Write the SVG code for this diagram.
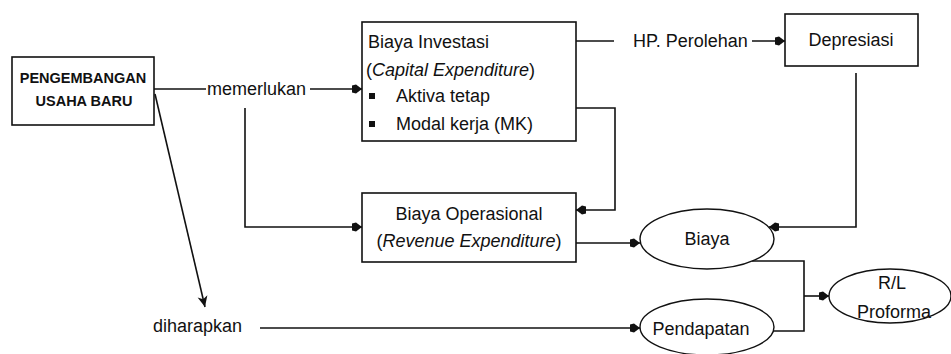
<svg xmlns="http://www.w3.org/2000/svg" width="951" height="354" viewBox="0 0 951 354">
<style>
.box{fill:#fff;stroke:#111;stroke-width:1.6}
.ell{fill:#fff;stroke:#111;stroke-width:1.4}
.ln{fill:none;stroke:#111;stroke-width:1.6}
text{font-family:"Liberation Sans",Arial,sans-serif;font-size:18px;fill:#111}
.b{font-weight:bold;font-size:14.5px}
.i{font-style:italic}
.m{text-anchor:middle}
</style>
<defs>
<marker id="a" markerUnits="userSpaceOnUse" markerWidth="12" markerHeight="10" refX="11" refY="5" orient="auto">
<path d="M1,1.5 L5,0.5 L11,5 L5,9.5 L1,8.5 Z" fill="#111"/>
</marker>
<marker id="t" markerUnits="userSpaceOnUse" markerWidth="12" markerHeight="12" refX="11" refY="6" orient="auto">
<path d="M0,1 L11,6 L0,11 L3,6 Z" fill="#111"/>
</marker>
</defs>
<g id="connectors">
<line class="ln" x1="154" y1="89" x2="206" y2="89"/>
<line class="ln" x1="310" y1="89" x2="362" y2="89" marker-end="url(#a)"/>
<polyline class="ln" points="245,108 245,227 362,227" marker-end="url(#a)"/>
<line class="ln" x1="576" y1="41" x2="614" y2="41"/>
<line class="ln" x1="752" y1="41" x2="785" y2="41" marker-end="url(#a)"/>
<polyline class="ln" points="576,108 615,108 615,210 576,210" marker-end="url(#a)"/>
<polyline class="ln" points="856,73 856,227 769,227" marker-end="url(#a)"/>
<line class="ln" x1="576" y1="243" x2="640" y2="243" marker-end="url(#a)"/>
<polyline class="ln" points="752,261 804,261 804,331 773,331"/>
<line class="ln" x1="804" y1="296" x2="829" y2="296" marker-end="url(#a)"/>
<line class="ln" x1="260" y1="328" x2="640" y2="328" marker-end="url(#a)"/>
<line class="ln" x1="155" y1="94" x2="205" y2="307" marker-end="url(#t)"/>
</g>
<g id="pengembangan">
<rect class="box" x="12" y="57" width="142" height="68"/>
<text class="b m" x="83" y="83">PENGEMBANGAN</text>
<text class="b m" x="84" y="106">USAHA BARU</text>
</g>
<g id="memerlukan">
<text x="207" y="95">memerlukan</text>
</g>
<g id="investasi">
<rect class="box" x="362" y="22" width="214" height="119"/>
<text x="368" y="48">Biaya Investasi</text>
<text x="366" y="76">(<tspan class="i">Capital Expenditure</tspan>)</text>
<rect x="369" y="93" width="6" height="6" fill="#111"/>
<text x="396" y="102">Aktiva tetap</text>
<rect x="369" y="121" width="6" height="6" fill="#111"/>
<text x="396" y="130">Modal kerja (MK)</text>
</g>
<g id="perolehan">
<text x="633" y="47">HP. Perolehan</text>
</g>
<g id="depresiasi">
<rect class="box" x="785" y="14" width="133" height="52"/>
<text class="m" x="851" y="46">Depresiasi</text>
</g>
<g id="operasional">
<rect class="box" x="362" y="193" width="214" height="69"/>
<text class="m" x="469" y="220">Biaya Operasional</text>
<text class="m" x="469" y="247">(<tspan class="i">Revenue Expenditure</tspan>)</text>
</g>
<g id="biaya">
<ellipse class="ell" cx="707" cy="239" rx="67" ry="30"/>
<text class="m" x="707" y="245">Biaya</text>
</g>
<g id="pendapatan">
<ellipse class="ell" cx="707" cy="327" rx="67" ry="28"/>
<text class="m" x="701" y="335">Pendapatan</text>
</g>
<g id="rl">
<ellipse class="ell" cx="890" cy="296" rx="61" ry="27"/>
<text class="m" x="892" y="289">R/L</text>
<text class="m" x="894" y="318">Proforma</text>
</g>
<g id="diharapkan">
<text x="153" y="332">diharapkan</text>
</g>
</svg>
